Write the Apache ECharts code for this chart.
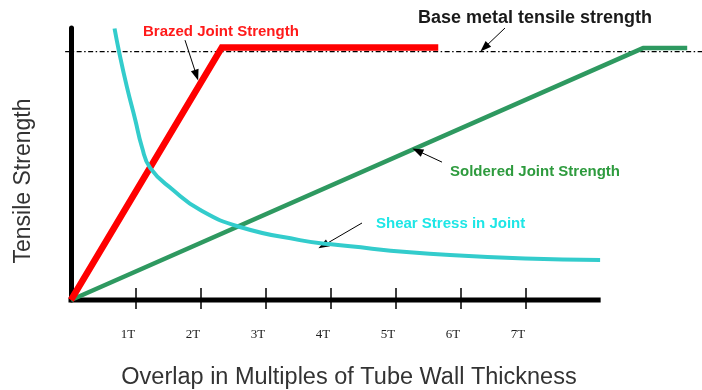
<!DOCTYPE html>
<html><head><meta charset="utf-8">
<script src="https://cdn.jsdelivr.net/npm/echarts@6/dist/echarts.min.js"></script>
<style>html,body{margin:0;padding:0;background:#fff}#c{width:702px;height:390px}</style>
</head><body><div id="c"></div>
<script>
// ---- data ----
const tickValues = [1, 2, 3, 4, 5, 6, 7];
const tickLabels = ['1T', '2T', '3T', '4T', '5T', '6T', '7T'];
const axisEndX = 8.11;
const baseX = [-0.09, 9.71];
const baseY = [100, 100];
const brazedX = [0, 2.32, 5.65];
const brazedY = [0, 101.6, 101.6];
const solderedX = [0, 8.8, 9.48];
const solderedY = [0, 101.4, 101.4];
const shearX = [0.67, 0.74, 0.86, 0.99, 1.09, 1.22, 1.57, 1.99, 2.6, 3.52, 4.0, 5.83, 8.14];
const shearY = [109.3, 99.9, 85.8, 72.4, 61.7, 53.1, 44.3, 36.2, 29.4, 24.1, 22.4, 18.1, 16.1];
// arrows: [fromX, fromY, toX, toY]
const arrows = [
  [1.754, 104.6, 1.93, 90.5],
  [6.677, 109.5, 6.36, 101.6],
  [5.708, 55.5, 5.33, 60.1],
  [4.477, 31.0, 3.88, 21.9]
];

const pairs = (xs, ys) => xs.map((x, i) => [x, ys[i]]);

const chart = echarts.init(document.getElementById('c'), null, {renderer: 'canvas'});
chart.setOption({
  animation: false,
  grid: {left: 58, width: 643.5, top: 28, bottom: 90, containLabel: false, outerBoundsMode: 'none'},
  xAxis: [{
    type: 'value', min: -0.2, max: 9.7, position: 'bottom',
    axisLine: {show: false},
    axisTick: {show: true, inside: true, length: 12, customValues: tickValues, lineStyle: {color: '#000', width: 1.5}},
    axisLabel: {show: false},
    splitLine: {show: false}
  }, {
    type: 'value', min: -0.2, max: 9.7, position: 'bottom',
    axisLine: {show: false},
    axisTick: {show: true, inside: false, length: 9, customValues: tickValues, lineStyle: {color: '#000', width: 1.5}},
    axisLabel: {
      show: true, customValues: tickValues, margin: 28,
      formatter: v => tickLabels[tickValues.indexOf(v)] || '',
      fontFamily: 'Liberation Serif', fontSize: 13, color: '#222',
      padding: [0, 16, 0, 0]
    },
    splitLine: {show: false}
  }],
  yAxis: {
    type: 'value', min: 0, max: 109.5,
    axisLine: {show: true, onZero: true, lineStyle: {color: '#000', width: 5}},
    axisTick: {show: false}, axisLabel: {show: false}, splitLine: {show: false}
  },
  series: [{
    type: 'line', name: 'x axis line', data: [[0, 0], [axisEndX, 0]],
    showSymbol: false, symbol: 'none', clip: false, silent: true, z: 1,
    lineStyle: {color: '#000', width: 5, cap: 'square'}
  }, {
    type: 'line', name: 'Base metal tensile strength', data: pairs(baseX, baseY),
    showSymbol: false, symbol: 'none', clip: false, silent: true, z: 2,
    lineStyle: {color: '#000', width: 1.2, type: [5, 2.5, 1.5, 2.5]},
    markLine: {
      silent: true, symbol: ['none', 'triangle'], symbolSize: [8, 11],
      label: {show: false},
      lineStyle: {color: '#000', width: 1, type: 'solid'},
      data: arrows.map(a => [{coord: [a[0], a[1]]}, {coord: [a[2], a[3]]}])
    }
  }, {
    type: 'line', name: 'Soldered Joint Strength', data: pairs(solderedX, solderedY),
    showSymbol: false, symbol: 'none', clip: false, silent: true, z: 3,
    lineStyle: {color: '#2e9960', width: 4.5, cap: 'butt'}
  }, {
    type: 'line', name: 'Brazed Joint Strength', data: pairs(brazedX, brazedY),
    showSymbol: false, symbol: 'none', clip: false, silent: true, z: 4,
    lineStyle: {color: '#ff0000', width: 6.5, cap: 'butt', join: 'miter'}
  }, {
    type: 'line', name: 'Shear Stress in Joint', data: pairs(shearX, shearY),
    showSymbol: false, symbol: 'none', clip: false, silent: true, z: 5,
    smooth: 0.5,
    lineStyle: {color: '#33cccc', width: 4}
  }],
  graphic: [
    {type: 'text', left: 143, top: 24, z: 10, style: {text: 'Brazed Joint Strength', fill: '#ff1a1a', font: 'bold 15px "Liberation Sans", Arial, sans-serif'}},
    {type: 'text', left: 418, top: 9, z: 10, style: {text: 'Base metal tensile strength', fill: '#1a1a1a', font: 'bold 18px "Liberation Sans", Arial, sans-serif'}},
    {type: 'text', left: 450, top: 164, z: 10, style: {text: 'Soldered Joint Strength', fill: '#2e9b3e', font: 'bold 15px "Liberation Sans", Arial, sans-serif'}},
    {type: 'text', left: 376, top: 216, z: 10, style: {text: 'Shear Stress in Joint', fill: '#1ee6e6', font: 'bold 15px "Liberation Sans", Arial, sans-serif'}},
    {type: 'text', x: 349, y: 378, z: 10, style: {text: 'Overlap in Multiples of Tube Wall Thickness', fill: '#333', font: '23.5px "Liberation Sans", Arial, sans-serif', align: 'center', verticalAlign: 'middle'}},
    {type: 'text', x: 24, y: 181, rotation: Math.PI / 2, z: 10, style: {text: 'Tensile Strength', fill: '#333', font: '23px "Liberation Sans", Arial, sans-serif', align: 'center', verticalAlign: 'middle'}}
  ]
});
</script></body></html>
